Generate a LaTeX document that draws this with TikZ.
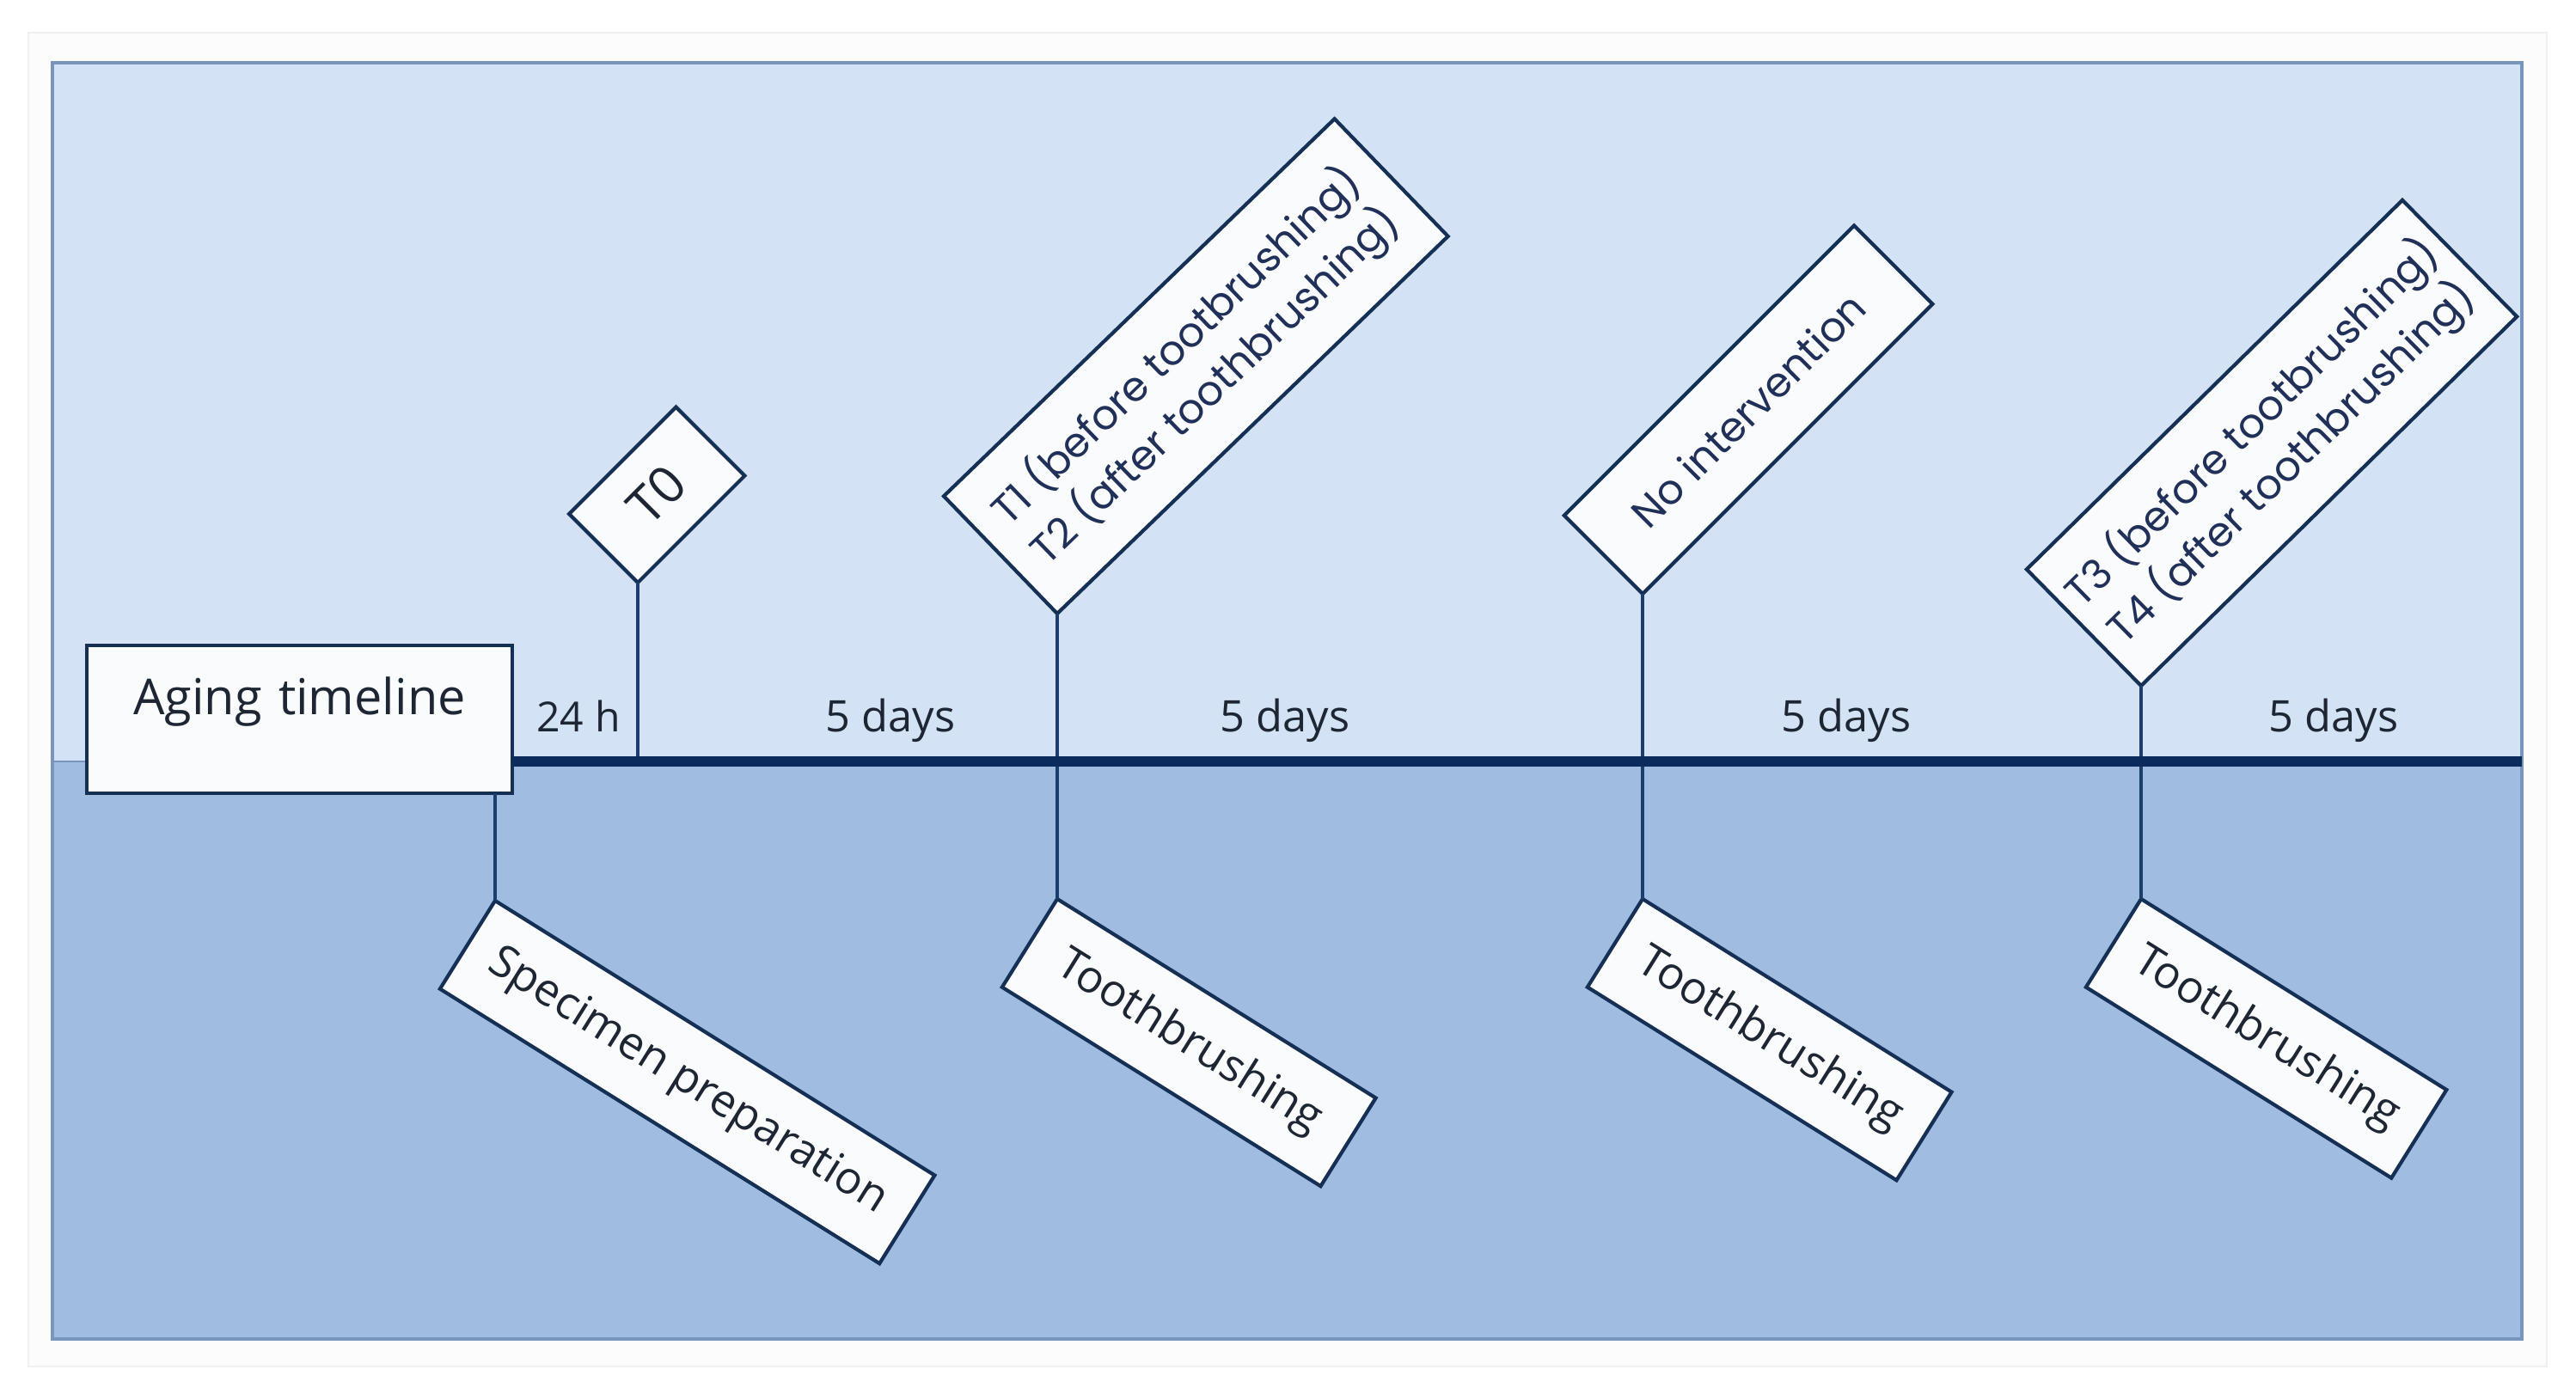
\documentclass[tikz,border=0pt]{standalone}
\usepackage{fontspec}
\setmainfont{Open Sans}
\newfontfamily\roundfont{Poppins}
\usepackage{xcolor}
\definecolor{paneltop}{RGB}{211,226,244}
\definecolor{panelbot}{RGB}{160,189,225}
\definecolor{panelrim}{RGB}{120,150,188}
\definecolor{navy}{RGB}{10,43,92}
\definecolor{stem}{RGB}{28,62,108}
\definecolor{boxrim}{RGB}{22,48,85}
\definecolor{boxfill}{RGB}{250,251,253}
\definecolor{inkdark}{RGB}{30,38,52}
\definecolor{inknavy}{RGB}{32,48,88}
\usetikzlibrary{positioning}

\begin{document}
\begin{tikzpicture}[tagbox/.style={draw=boxrim,fill=boxfill,line width=1.2pt,inner sep=0pt,outer sep=0pt,align=center},
  upbox/.style={tagbox,anchor=south west,text=inknavy,font=\roundfont\fontsize{13.6}{18.4}\selectfont},
  downbox/.style={tagbox,anchor=north west,rotate=-32,text=inkdark,minimum height=1.21cm,font=\fontsize{14.8}{18}\selectfont},
  gaplabel/.style={anchor=base,text=inkdark,font=\fontsize{14.4}{17}\selectfont},
  stemline/.style={draw=stem,line width=0.95pt}]
% page and panel
\fill[white] (0,0) rectangle (29.97,16.28);
\draw[black!6,fill=black!1] (0.33,0.38) rectangle (29.63,15.90);
\fill[paneltop] (0.61,7.42) rectangle (29.34,15.55);
\fill[panelbot] (0.61,0.70) rectangle (29.34,7.42);
\draw[panelrim,line width=0.9pt] (0.61,0.70) rectangle (29.34,15.55);
\draw[panelrim,line width=0.6pt] (0.61,7.42) -- (1.01,7.42);
% ticks on the timeline
\coordinate (tick0) at (7.42,7.42);
\coordinate (tick1) at (12.30,7.42);
\coordinate (tick2) at (19.11,7.42);
\coordinate (tick3) at (24.91,7.42);
\coordinate (tend) at (29.34,7.42);
\node[tagbox,anchor=base,text=inkdark,text width=4.95cm,text height=0.81cm,text depth=0.91cm,font=\fontsize{16.4}{19}\selectfont] (aging) at (3.485,7.96) {Aging timeline};
% time points above
\node[upbox,rotate=45,minimum width=1.76cm,minimum height=1.13cm,text=inkdark,font=\fontsize{17}{20}\selectfont] (t0) at ([yshift=2.08cm]tick0) {T0};
\node[upbox,rotate=44,minimum width=6.32cm,minimum height=1.90cm] (t1t2) at ([yshift=1.72cm]tick1) {T1 (before tootbrushing)\\T2 (after toothbrushing)};
\node[upbox,rotate=45,minimum width=4.77cm,minimum height=1.29cm] (noint) at ([yshift=1.95cm]tick2) {No intervention};
\node[upbox,rotate=44.5,minimum width=6.13cm,minimum height=1.90cm] (t3t4) at ([yshift=0.88cm]tick3) {T3 (before tootbrushing)\\T4 (after toothbrushing)};
% steps below
\node[downbox,minimum width=6.03cm] (spec) at (5.76,5.80) {Specimen preparation};
\node[downbox,minimum width=4.37cm] (tb1) at ([yshift=-1.60cm]tick1) {Toothbrushing};
\node[downbox,minimum width=4.24cm] (tb2) at ([yshift=-1.60cm]tick2) {Toothbrushing};
\node[downbox,minimum width=4.19cm] (tb3) at ([yshift=-1.60cm]tick3) {Toothbrushing};
% stems
\draw[stemline] (aging.south -| spec.north west) -- (spec.north west);
\draw[stemline] (tick0) -- (t0.south west);
\draw[stemline] (t1t2.south west) -- (tb1.north west);
\draw[stemline] (noint.south west) -- (tb2.north west);
\draw[stemline] (t3t4.south west) -- (tb3.north west);
% timeline
\draw[navy,line width=3.2pt] (aging.east |- tick0) -- (tend);
\node[gaplabel,font=\fontsize{13.7}{16}\selectfont] (h24) at (6.73,7.76) {24 h};
\foreach \x/\n in {10.36/d1,14.95/d2,21.48/d3,27.15/d4}
  \node[gaplabel] (\n) at (\x,7.76) {5 days};
\end{tikzpicture}
\end{document}
